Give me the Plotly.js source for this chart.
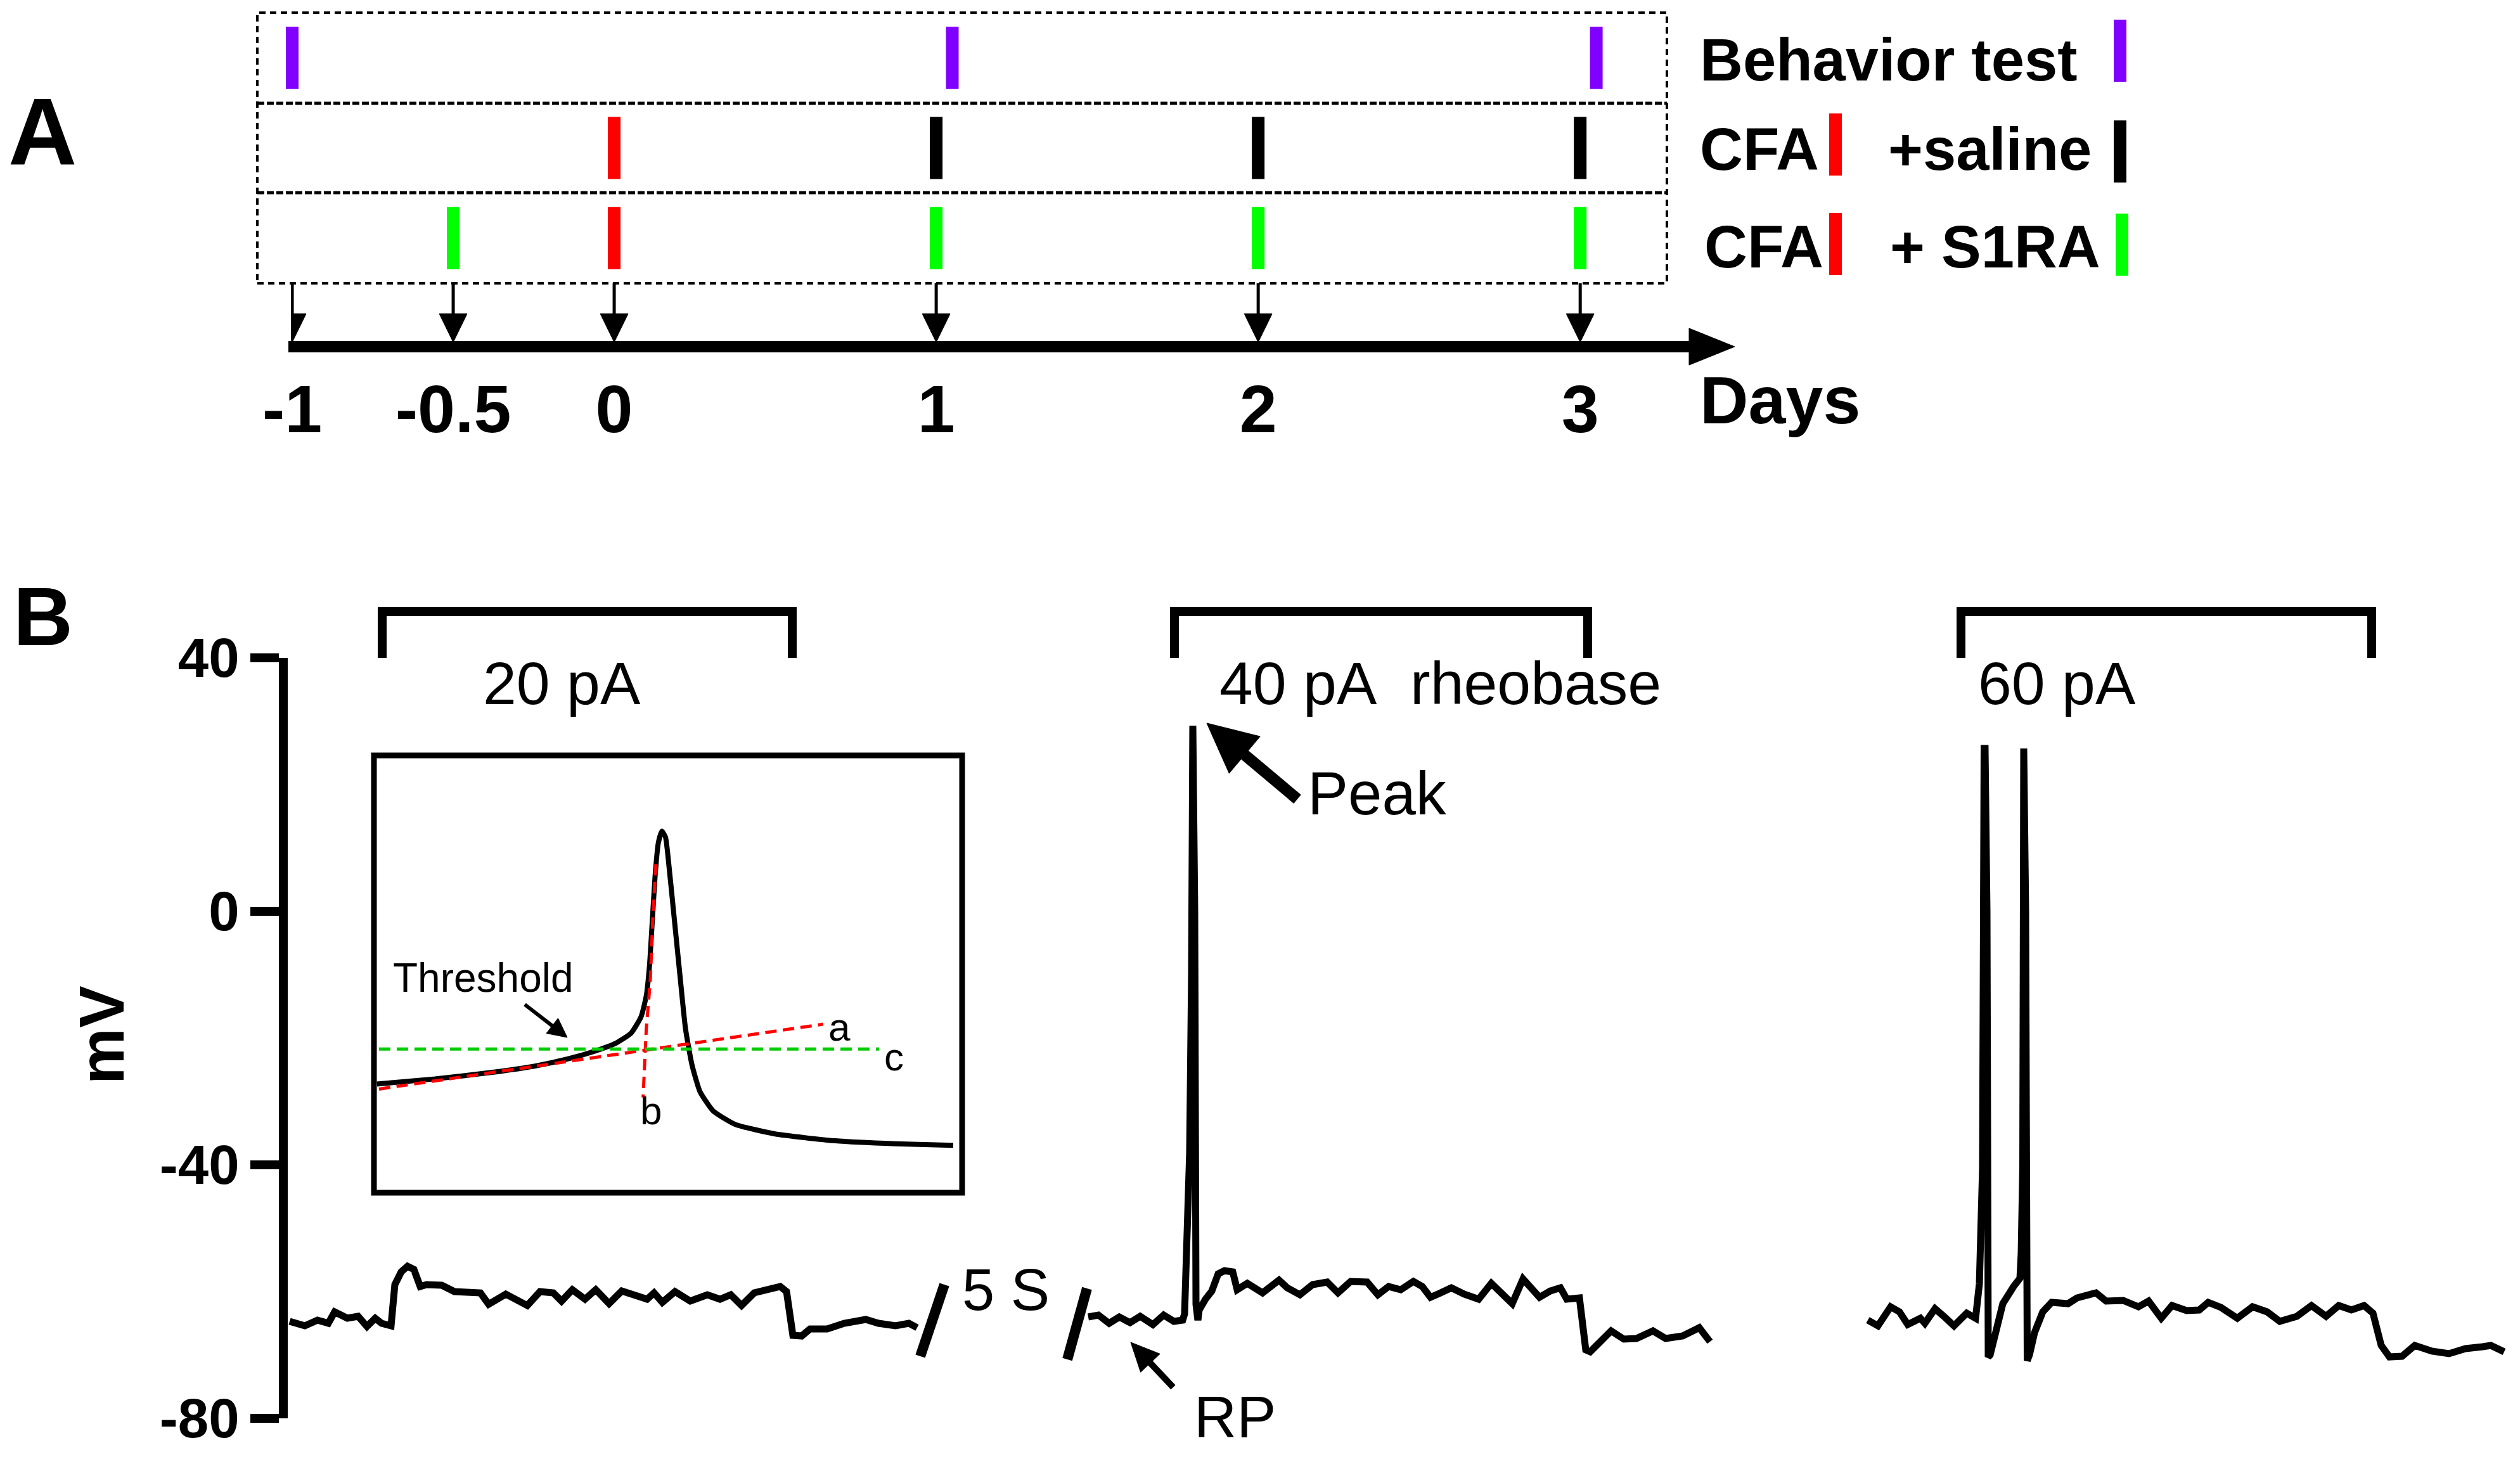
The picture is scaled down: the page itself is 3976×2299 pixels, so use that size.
<!DOCTYPE html>
<html><head><meta charset="utf-8">
<script src="https://cdn.plot.ly/plotly-3.0.1.min.js"></script>
<style>html,body{margin:0;padding:0;background:#fff;}#chart{width:3976px;height:2299px;}</style>
</head><body><div id="chart"></div>
<script>
// ---------------- Panel A data ----------------
const dayTicks = [-1, -0.5, 0, 1, 2, 3];
const dayTickLabels = ['-1', '-0.5', '0', '1', '2', '3'];
const behaviorDays = [-1, 1.05, 3.05];   // purple marks, row 1
const cfaSalineDays = [0];               // red mark, row 2
const salineDays = [1, 2, 3];            // black marks, row 2
const cfaS1raDays = [0];                 // red mark, row 3
const s1raDays = [-0.5, 1, 2, 3];        // green marks, row 3

// ---------------- Panel B data ----------------
const mvTicks = [-80, -40, 0, 40];
const mvTickLabels = ['-80', '-40', '0', '40'];
// 20 pA sweep (time, a.u. ; membrane potential, mV)
const t20 = [1.0,3.4,5.4,7.1,8.1,10.1,11.8,13.2,14.5,15.5,17.0,17.6,18.6,19.6,20.6,21.6,22.6,25.0,27.0,31.1,32.4,35.1,38.5,40.5,42.6,43.9,45.6,47.6,49.3,51.4,53.4,55.4,57.4,58.5,59.8,61.8,64.2,66.9,68.9,70.6,72.3,74.3,76.4,78.4,79.4,80.4,81.8,83.1,85.8,88.5,91.9,93.9,96.6,98.7,100.0];
const v20 = [-64.7,-65.4,-64.5,-65.0,-63.2,-64.2,-63.9,-65.5,-64.2,-65.0,-65.4,-58.9,-56.9,-56.0,-56.5,-59.2,-58.9,-59.0,-60.0,-60.2,-62.0,-60.4,-62.2,-60.0,-60.2,-61.5,-59.7,-61.2,-59.7,-61.9,-59.9,-60.5,-61.2,-60.2,-61.7,-60.0,-61.5,-60.5,-61.2,-60.5,-62.2,-60.2,-59.7,-59.2,-60.0,-66.9,-67.0,-65.9,-65.9,-65.0,-64.4,-65.0,-65.4,-65.0,-65.7];
// 40 pA (rheobase) sweep
const t40 = [127.0,128.6,130.3,131.9,133.6,135.2,137.2,138.9,140.5,141.9,142.2,142.6,143.0,143.3,143.5,143.8,144.0,144.3,144.5,145.5,146.5,147.5,148.5,149.8,150.5,152.1,154.5,157.1,158.4,160.4,162.4,164.7,166.4,168.4,171.0,172.7,174.4,176.3,178.3,179.7,181.0,182.6,184.3,186.3,188.6,190.6,192.3,193.9,195.6,198.2,199.9,201.5,202.5,204.5,205.5,206.2,207.8,209.5,211.5,213.5,216.1,218.1,220.8,223.4,225.1];
const v40 = [-64.0,-63.7,-65.0,-64.0,-64.9,-63.9,-65.2,-63.7,-64.7,-64.5,-63.5,-50.0,-38.0,-10.0,29.3,0.0,-62.0,-64.5,-62.9,-61.2,-59.9,-57.2,-56.7,-56.9,-59.7,-58.7,-60.2,-58.2,-59.4,-60.5,-58.9,-58.5,-60.2,-58.4,-58.5,-60.5,-59.2,-59.7,-58.4,-59.2,-60.9,-60.2,-59.4,-60.4,-61.2,-58.7,-60.5,-61.9,-58.0,-60.9,-59.9,-59.4,-61.2,-61.0,-69.2,-69.5,-67.9,-66.2,-67.5,-67.4,-66.2,-67.4,-67.0,-65.7,-67.9];
// 60 pA sweep
const t60 = [250.0,251.6,253.6,255.0,256.3,258.3,259.0,260.6,262.0,263.6,265.6,267.0,267.6,268.1,268.35,268.5,268.8,269.0,269.3,270.0,271.3,273.0,274.0,274.2,274.45,274.6,274.9,275.15,275.5,276.3,277.6,279.0,281.6,283.0,286.0,287.6,290.3,292.7,294.3,296.3,298.0,300.3,302.3,303.7,305.7,308.3,310.7,313.0,315.0,317.7,320.0,322.3,324.3,326.3,328.3,329.7,331.0,332.3,334.3,336.3,339.0,341.7,344.3,347.0,348.3,350.4];
const v60 = [-64.5,-65.4,-62.4,-63.2,-65.2,-64.2,-65.0,-62.7,-63.9,-65.4,-63.4,-64.2,-58.8,-40.6,25.7,25.7,0.0,-70.3,-70.0,-66.9,-61.9,-59.2,-57.9,-54.0,-40.0,25.7,0.0,-70.9,-70.0,-66.5,-63.2,-61.7,-61.9,-61.0,-60.2,-61.5,-61.4,-62.4,-61.5,-64.2,-62.2,-63.0,-62.9,-61.7,-62.5,-64.2,-62.4,-63.2,-64.7,-63.9,-62.2,-63.9,-62.2,-62.9,-62.2,-63.4,-68.5,-70.3,-70.2,-68.5,-69.4,-69.8,-69.0,-68.7,-68.5,-69.5];
// Inset: single action potential (a.u.)
const insetT = [1.5,16,31,41,49,56,61,65,67.5,68.8,69.6,70.3,71,71.8,72.7,73.6,74.5,75.7,77.2,78.6,80.2,82.2,85.5,91,101,116,131,145.5];
const insetV = [37.5,39.2,41.5,43.5,45.8,48.5,51,54.5,60,67,77,92,107,118,122,120,110,94,74,56,44,35,28.5,24,20.8,18.5,17.5,17];
const lineAT = [2, 113], lineAV = [35.8, 57.5];
const lineBT = [71.2, 70.4, 69.8, 68.8, 68.0], lineBV = [111, 92, 72, 56, 33];
const lineCT = [2, 127], lineCV = [49.2, 49.2];

// ---------------- helpers ----------------
const W = 3976, H = 2299;
const X = p => p / W, Y = p => 1 - p / H;
const F = 'Liberation Sans, Arial, sans-serif';
const PURPLE = '#8000ff', RED = '#ff0000', GREEN = '#00ff00', BLACK = '#000000';

const traces = [];
function marks(days, row, color) {
  traces.push({x: days, y: days.map(() => row), xaxis: 'x', yaxis: 'y', type: 'scatter', mode: 'markers',
    cliponaxis: false, hoverinfo: 'skip',
    marker: {symbol: 'line-ns-open', size: 70, color: color, line: {color: color, width: 20}}});
}
marks(behaviorDays, 1, PURPLE);
marks(cfaSalineDays, 2, RED);
marks(salineDays, 2, BLACK);
marks(cfaS1raDays, 3, RED);
marks(s1raDays, 3, GREEN);

[[t20, v20], [t40, v40], [t60, v60]].forEach(([t, v]) => traces.push({
  x: t, y: v, xaxis: 'x2', yaxis: 'y2', type: 'scatter', mode: 'lines', cliponaxis: false,
  line: {color: BLACK, width: 11}, hoverinfo: 'skip'}));

traces.push({x: insetT, y: insetV, xaxis: 'x3', yaxis: 'y3', type: 'scatter', mode: 'lines', cliponaxis: false,
  line: {color: BLACK, width: 8, shape: 'spline', smoothing: 0.5}, hoverinfo: 'skip'});
traces.push({x: lineAT, y: lineAV, xaxis: 'x3', yaxis: 'y3', type: 'scatter', mode: 'lines', cliponaxis: false,
  line: {color: RED, width: 5, dash: '18px,10px'}, hoverinfo: 'skip'});
traces.push({x: lineBT, y: lineBV, xaxis: 'x3', yaxis: 'y3', type: 'scatter', mode: 'lines', cliponaxis: false,
  line: {color: RED, width: 5, dash: '18px,10px'}, hoverinfo: 'skip'});
traces.push({x: lineCT, y: lineCV, xaxis: 'x3', yaxis: 'y3', type: 'scatter', mode: 'lines', cliponaxis: false,
  line: {color: '#00cc00', width: 5, dash: '18px,10px'}, hoverinfo: 'skip'});

const shapes = [];
function pline(x0, y0, x1, y1, w, color, dash) {
  shapes.push({type: 'line', xref: 'paper', yref: 'paper', x0: X(x0), y0: Y(y0), x1: X(x1), y1: Y(y1),
    line: {color: color || BLACK, width: w, dash: dash || 'solid'}});
}
function ppath(pts, w, fill) {
  const d = pts.map((p, i) => (i ? 'L' : 'M') + X(p[0]) + ',' + Y(p[1])).join(' ') + (fill ? ' Z' : '');
  shapes.push({type: 'path', xref: 'paper', yref: 'paper', path: d,
    fillcolor: fill ? BLACK : 'rgba(0,0,0,0)', line: {color: BLACK, width: w}});
}
function arrow(x1, y1, x2, y2, w, hl, hw) {
  const dx = x2 - x1, dy = y2 - y1, L = Math.hypot(dx, dy), ux = dx / L, uy = dy / L;
  const bx = x2 - ux * hl, by = y2 - uy * hl, nx = -uy, ny = ux;
  pline(x1, y1, bx + ux * 3, by + uy * 3, w);
  ppath([[x2, y2], [bx + nx * hw / 2, by + ny * hw / 2], [bx - nx * hw / 2, by - ny * hw / 2]], 1, true);
}

// Panel A: dashed frame
shapes.push({type: 'rect', xref: 'paper', yref: 'paper', x0: X(406), x1: X(2630), y0: Y(447), y1: Y(20),
  line: {color: BLACK, width: 4, dash: '10px,7px'}});
pline(406, 163, 2630, 163, 5, BLACK, '11px,4px');
pline(406, 304, 2630, 304, 5, BLACK, '11px,4px');
// day arrows (x in day units through axis 'x')
const hwD = 22 / 508;
dayTicks.forEach(d => {
  shapes.push({type: 'line', xref: 'x', yref: 'paper', x0: d, x1: d, y0: Y(447), y1: Y(500), line: {color: BLACK, width: 5}});
  shapes.push({type: 'path', xref: 'x', yref: 'paper',
    path: `M${d - hwD},${Y(495)} L${d + hwD},${Y(495)} L${d},${Y(540)} Z`, fillcolor: BLACK, line: {color: BLACK, width: 1}});
});
// timeline
pline(455, 547, 2670, 547, 18);
ppath([[2737, 547], [2665, 518], [2665, 576]], 1, true);
// legend colour marks
pline(3345, 31, 3345, 129, 20, PURPLE);
pline(2896, 179, 2896, 277, 20, RED);
pline(3345, 190, 3345, 288, 20, BLACK);
pline(2896, 336, 2896, 434, 20, RED);
pline(3348, 337, 3348, 435, 20, GREEN);

// Panel B: stimulus brackets
ppath([[603, 1038], [603, 965], [1250, 965], [1250, 1038]], 14, false);
ppath([[1853, 1038], [1853, 965], [2505, 965], [2505, 1038]], 14, false);
ppath([[3094, 1038], [3094, 965], [3742, 965], [3742, 1038]], 14, false);
// break marks
pline(1452, 2140, 1490, 2027, 16);
pline(1684, 2145, 1715, 2033, 16);
// inset frame
shapes.push({type: 'rect', xref: 'paper', yref: 'paper', x0: X(590), x1: X(1518), y0: Y(1882), y1: Y(1192),
  line: {color: BLACK, width: 9}});
// arrows
arrow(2047, 1261, 1904, 1141, 18, 78, 76);
arrow(1851, 2189, 1784, 2118, 10, 45, 42);
arrow(828, 1585, 895, 1637, 6, 30, 30);

const ann = [];
function txt(text, x, y, size, opts) {
  ann.push(Object.assign({text: text, x: X(x), y: Y(y), xref: 'paper', yref: 'paper', showarrow: false,
    xanchor: 'left', yanchor: 'middle', font: {family: F, size: size, color: BLACK}}, opts || {}));
}
const bold = (s) => ({font: {family: F, size: s, color: BLACK, weight: 'bold'}});
txt('A', 67, 207, 150, Object.assign({xanchor: 'center'}, bold(150)));
txt('B', 68, 973, 130, Object.assign({xanchor: 'center'}, bold(130)));
txt('Behavior test', 2680, 95, 94, bold(94));
txt('CFA', 2680, 236, 94, bold(94));
txt('+saline', 2977, 236, 94, bold(94));
txt('CFA', 2687, 389, 94, bold(94));
txt('+ S1RA', 2980, 389, 94, bold(94));
txt('Days', 2680, 631, 106, bold(106));
txt('mV', 160, 1633, 100, Object.assign({xanchor: 'center', textangle: -90}, bold(100)));
txt('20 pA', 886, 1078, 95, {xanchor: 'center'});
txt('40 pA\u00a0\u00a0rheobase', 1922, 1078, 95);
txt('60 pA', 3119, 1078, 95);
txt('Peak', 2061, 1251, 96);
txt('RP', 1882, 2236, 93);
txt('5 S', 1516, 2035, 92);
txt('Threshold', 762, 1543, 64, {xanchor: 'center'});
txt('a', 1324, 1620, 62, {xanchor: 'center'});
txt('b', 1027, 1752, 62, {xanchor: 'center'});
txt('c', 1410, 1667, 62, {xanchor: 'center'});

const layout = {
  width: W, height: H, margin: {l: 0, r: 0, t: 0, b: 0, pad: 0},
  paper_bgcolor: '#fff', plot_bgcolor: 'rgba(0,0,0,0)', showlegend: false,
  xaxis: {domain: [459 / W, 2670 / W], range: [-1.004, 3.348], anchor: 'free', position: Y(547),
    showline: false, showgrid: false, zeroline: false, ticks: '', tickvals: dayTicks, ticktext: dayTickLabels,
    tickfont: {family: F, size: 106, color: BLACK, weight: 'bold'}, ticklabelstandoff: 28, fixedrange: true},
  yaxis: {domain: [Y(447), Y(20)], range: [3.5, 0.5], anchor: 'x', visible: false, fixedrange: true},
  xaxis2: {domain: [454 / W, 1], range: [0.7, 352.9], anchor: 'y2', visible: false, fixedrange: true},
  yaxis2: {domain: [Y(2238), Y(1038)], range: [-80, 40], anchor: 'x2', showline: true, linewidth: 14,
    linecolor: BLACK, ticks: 'outside', ticklen: 45, tickwidth: 14, tickcolor: BLACK, tickvals: mvTicks,
    ticktext: mvTickLabels, tickfont: {family: F, size: 87, color: BLACK, weight: 'bold'},
    showgrid: false, zeroline: false, fixedrange: true},
  xaxis3: {domain: [585.3 / W, 1522.9 / W], range: [0, 148.5], anchor: 'y3', visible: false, fixedrange: true},
  yaxis3: {domain: [Y(1887.4), Y(1186.5)], range: [0, 148.5], anchor: 'x3', visible: false, fixedrange: true},
  shapes: shapes, annotations: ann, hovermode: false
};
Plotly.newPlot('chart', traces, layout, {staticPlot: true, displayModeBar: false});
</script></body></html>
